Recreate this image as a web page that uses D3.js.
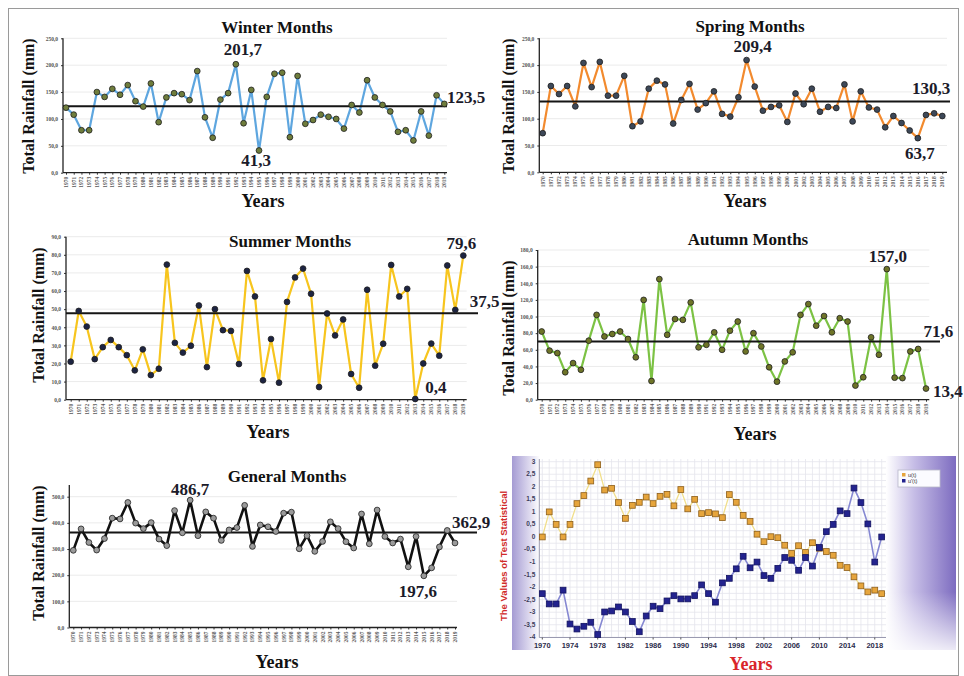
<!DOCTYPE html>
<html>
<head>
<meta charset="utf-8">
<script src="https://cdn.jsdelivr.net/npm/d3@7"></script>
<style>
  body { margin: 0; background: #fff; }
  svg { display: block; }
</style>
</head>
<body>
<svg id="chart" width="964" height="676"></svg>
<script>
var years = d3.range(1970, 2020);

var winter = [121, 108, 79, 79, 150, 141, 156, 145, 163, 133, 123, 166, 94, 140, 148, 146, 135, 189, 103, 65,
  136, 148, 201.7, 92, 154, 41.3, 141, 184, 186, 66, 180, 91, 98, 108, 104, 100, 82, 126, 112, 172,
  140, 126, 114, 76, 79, 60, 114, 69, 144, 128];
var spring = [73, 161, 146, 161, 123, 204, 159, 206, 143, 143, 180, 86, 95, 156, 171, 164, 91, 135, 165, 117,
  129, 151, 109, 104, 140, 209.4, 160, 115, 122, 125, 94, 147, 127, 156, 113, 122, 120, 164, 95, 151,
  121, 117, 84, 105, 92, 78, 63.7, 107, 110, 105];
var summer = [21, 49, 40.4, 22.4, 29, 33, 29, 24.6, 16.2, 27.8, 13.6, 17.1, 74.6, 31.4, 26, 29.8, 52, 18, 50, 38.4,
  38, 19.7, 71.1, 57, 10.7, 33.5, 9.4, 54, 67.5, 72.4, 58.5, 7, 47.6, 35.5, 44.3, 14.2, 6.6, 60.7, 18.8, 30.9,
  74.4, 57, 61.2, 0.4, 20, 31, 24.3, 74.1, 49.6, 79.6];
var autumn = [82, 59, 56, 33, 44, 36, 71, 102, 76, 79, 82, 73, 51, 120, 22.5, 145, 78, 97, 96, 117,
  63, 66, 81, 60, 83, 94, 58, 80, 64, 39, 21.7, 46, 57, 102, 115, 89, 100.6, 81, 98, 94,
  17, 27, 75, 54, 157, 26.5, 26, 58, 61, 13.4];
var general = [295, 377, 325, 296, 340, 418, 415, 478, 399, 378, 401, 338, 313, 447, 362, 486.7, 351, 442, 418, 333,
  373, 382, 467, 310, 392, 385, 367, 437, 441, 301, 351, 291, 329, 404, 378, 328, 304, 434, 320, 449,
  348, 323, 338, 232, 348, 197.6, 228, 308, 371, 323];

// horizontal reference lines as drawn, and the numbers printed next to them
var meanLines = [123.5, 132, 47.8, 70, 363];
var meanLabels = ['123,5', '130,3', '37,5', '71,6', '362,9'];

// sequential Mann-Kendall statistics
var uForward = [0, 1.0, 0.5, 0, 0.5, 1.33, 1.65, 2.23, 2.88, 1.87, 1.94, 1.37, 0.74, 1.26, 1.38, 1.59, 1.33, 1.62, 1.70, 1.24,
  1.89, 1.12, 1.5, 0.93, 0.97, 0.92, 0.77, 1.69, 1.38, 0.86, 0.62, 0.11, -0.19, 0.01, -0.03, -0.33, -0.66, -0.35, -0.62, -0.23,
  -0.45, -0.58, -0.73, -1.13, -1.22, -1.59, -1.95, -2.19, -2.12, -2.26];
var uBackward = [-2.26, -2.67, -2.67, -2.12, -3.47, -3.67, -3.56, -3.40, -3.89, -2.99, -2.95, -2.79, -2.99, -3.37, -3.78, -3.15, -2.76, -2.86, -2.55, -2.34,
  -2.47, -2.47, -2.34, -1.91, -2.26, -2.6, -1.83, -1.65, -1.27, -0.77, -1.23, -1.0, -1.54, -1.65, -1.25, -0.82, -0.93, -1.33, -0.82, -1.16,
  -0.42, 0.21, 0.5, 1.04, 0.93, 1.95, 1.37, 0.52, -1.0, 0];
var mkTicks = [3, 2.5, 2, 1.5, 1, 0.5, 0, -0.5, -1, -1.5, -2, -2.5, -3, -3.5, -4];
var mkYearTicks = [1970, 1974, 1978, 1982, 1986, 1990, 1994, 1998, 2002, 2006, 2010, 2014, 2018];
var mkLegend = ["u(t)", "u'(t)"];

(function(d3) {
  'use strict';

  var svg = d3.select('#chart');
  var serif = '"Times New Roman", "Liberation Serif", serif';

  function comma(v, digits) {
    return v.toFixed(digits).replace('.', ',');
  }

  svg.append('rect')
    .attr('x', 8.5).attr('y', 8.5).attr('width', 950).attr('height', 667)
    .attr('fill', 'none').attr('stroke', '#9a9a9a');

  function plotRain(o) {
    var g = svg.append('g');
    var x = d3.scaleLinear().domain([1970, 2019]).range([o.x0, o.x1]);
    var y = d3.scaleLinear().domain([0, o.max]).range([o.y0, o.y1]);
    var ticks = d3.range(0, o.max + 1, o.step);

    g.selectAll('line.grid').data(ticks.slice(1)).enter().append('line')
      .attr('class', 'grid')
      .attr('x1', o.axisX).attr('x2', o.right)
      .attr('y1', function(d) { return y(d); }).attr('y2', function(d) { return y(d); })
      .attr('stroke', '#ebebeb');

    var yAxis = g.append('g')
      .attr('transform', 'translate(' + o.axisX + ',0)')
      .call(d3.axisLeft(y).tickValues(ticks).tickSize(2).tickPadding(3)
        .tickFormat(function(d) { return comma(d, 1); }));
    yAxis.select('.domain').remove();
    yAxis.selectAll('text').attr('font-size', 5.5).attr('font-weight', 'bold')
      .attr('font-family', serif).attr('fill', '#555');
    yAxis.selectAll('.tick line').attr('stroke', '#333');

    var xAxis = g.append('g')
      .attr('transform', 'translate(0,' + o.y0 + ')')
      .call(d3.axisBottom(x).tickValues(years).tickSize(2).tickFormat(''));
    xAxis.select('.domain').remove();
    xAxis.selectAll('.tick line').attr('stroke', '#333');

    g.selectAll('text.yr').data(years).enter().append('text')
      .attr('class', 'yr')
      .attr('transform', function(d) { return 'translate(' + (x(d) + 2) + ',' + (o.y0 + 4) + ') rotate(-90)'; })
      .attr('text-anchor', 'end')
      .attr('font-size', 5.5).attr('font-weight', 'bold').attr('font-family', serif)
      .attr('fill', '#5a5a5a')
      .text(function(d) { return d; });

    g.append('line')
      .attr('x1', o.axisX).attr('x2', o.axisX)
      .attr('y1', o.y0).attr('y2', y(o.top))
      .attr('stroke', '#222').attr('stroke-width', 1.3);
    g.append('line')
      .attr('x1', o.axisX).attr('x2', o.right)
      .attr('y1', o.y0).attr('y2', o.y0)
      .attr('stroke', '#222').attr('stroke-width', 1.3);

    var line = d3.line()
      .x(function(d, i) { return x(years[i]); })
      .y(function(d) { return y(d); });

    g.append('path')
      .datum(o.values)
      .attr('d', line)
      .attr('fill', 'none')
      .attr('stroke', o.color)
      .attr('stroke-width', o.width || 2.2)
      .attr('stroke-linejoin', 'round');

    g.append('line')
      .attr('x1', o.axisX).attr('x2', o.meanEnd)
      .attr('y1', y(o.mean)).attr('y2', y(o.mean))
      .attr('stroke', '#151515').attr('stroke-width', 2);

    g.selectAll('circle').data(o.values).enter().append('circle')
      .attr('cx', function(d, i) { return x(years[i]); })
      .attr('cy', function(d) { return y(d); })
      .attr('r', 2.9)
      .attr('fill', o.dot)
      .attr('stroke', '#1e1e1e')
      .attr('stroke-width', 0.8);

    o.notes.forEach(function(n) {
      var v = o.values[n.year - 1970];
      g.append('text')
        .attr('x', x(n.year) + n.dx).attr('y', y(v) + n.dy)
        .attr('text-anchor', n.anchor || 'middle')
        .attr('font-family', serif).attr('font-weight', 'bold').attr('font-size', 17)
        .attr('fill', '#1b1b2a')
        .text(n.text);
    });

    g.append('text')
      .attr('x', o.right + o.meanNote.dx).attr('y', y(o.mean) + o.meanNote.dy)
      .attr('text-anchor', o.meanNote.anchor)
      .attr('font-family', serif).attr('font-weight', 'bold').attr('font-size', 17)
      .attr('fill', '#1b1b2a')
      .text(o.meanText);

    g.append('text')
      .attr('x', o.titleX).attr('y', o.titleY)
      .attr('text-anchor', 'middle')
      .attr('font-family', serif).attr('font-weight', 'bold').attr('font-size', 17)
      .attr('fill', '#111')
      .text(o.title);

    g.append('text')
      .attr('x', o.yearsX).attr('y', o.yearsY)
      .attr('text-anchor', 'middle')
      .attr('font-family', serif).attr('font-weight', 'bold').attr('font-size', 18)
      .attr('fill', '#111')
      .text('Years');

    g.append('text')
      .attr('transform', 'translate(' + o.ylabX + ',' + o.ylabY + ') rotate(-90)')
      .attr('text-anchor', 'middle')
      .attr('dominant-baseline', 'central')
      .attr('font-family', serif).attr('font-weight', 'bold').attr('font-size', 16)
      .attr('fill', '#111')
      .text('Total Rainfall (mm)');
  }

  plotRain({
    values: winter, mean: meanLines[0], meanText: meanLabels[0],
    color: '#5ea6df', dot: '#6f7d3c', title: 'Winter Months',
    axisX: 63, x0: 66, x1: 444.3, right: 447, meanEnd: 447,
    y0: 172.7, y1: 38.3, max: 250, step: 50, top: 250,
    titleX: 277, titleY: 33, yearsX: 263, yearsY: 207, ylabX: 28, ylabY: 106,
    notes: [
      { year: 1992, text: '201,7', dx: 7, dy: -9 },
      { year: 1995, text: '41,3', dx: -3, dy: 16 }
    ],
    meanNote: { dx: 0, dy: -3, anchor: 'start' }
  });

  plotRain({
    values: spring, mean: meanLines[1], meanText: meanLabels[1],
    color: '#f28a2e', dot: '#3d4858', title: 'Spring Months',
    axisX: 539.3, x0: 542.7, x1: 942.3, right: 947, meanEnd: 950,
    y0: 172.3, y1: 38.3, max: 250, step: 50, top: 250,
    titleX: 750, titleY: 32, yearsX: 745, yearsY: 207, ylabX: 508, ylabY: 106,
    notes: [
      { year: 1995, text: '209,4', dx: 6, dy: -8 },
      { year: 2016, text: '63,7', dx: 2, dy: 21 }
    ],
    meanNote: { dx: -16, dy: -8, anchor: 'middle' }
  });

  plotRain({
    values: summer, mean: meanLines[2], meanText: meanLabels[2],
    color: '#f7c51e', dot: '#1d2442', title: 'Summer Months',
    axisX: 66, x0: 70.7, x1: 463.3, right: 466.7, meanEnd: 478,
    y0: 399.7, y1: 236.7, max: 90, step: 10, top: 90,
    titleX: 290, titleY: 247, yearsX: 268, yearsY: 438, ylabX: 38, ylabY: 315,
    notes: [
      { year: 2019, text: '79,6', dx: -2, dy: -6.5 },
      { year: 2013, text: '0,4', dx: 10, dy: -6, anchor: 'start' }
    ],
    meanNote: { dx: 3, dy: -6, anchor: 'start' }
  });

  plotRain({
    values: autumn, mean: meanLines[3], meanText: meanLabels[3],
    color: '#7cc244', dot: '#6e7428', title: 'Autumn Months',
    axisX: 537.7, x0: 541.7, x1: 926, right: 929.3, meanEnd: 940,
    y0: 399.7, y1: 250, max: 180, step: 20, top: 180,
    titleX: 748, titleY: 245, yearsX: 755, yearsY: 440, ylabX: 508, ylabY: 328,
    notes: [
      { year: 2014, text: '157,0', dx: 1, dy: -7.5 },
      { year: 2019, text: '13,4', dx: 7, dy: 8, anchor: 'start' }
    ],
    meanNote: { dx: 9, dy: -4, anchor: 'middle' }
  });

  plotRain({
    values: general, mean: meanLines[4], meanText: meanLabels[4],
    color: '#111', dot: '#9a9a9a', title: 'General Months', width: 2.6,
    axisX: 69.3, x0: 73.3, x1: 455, right: 457, meanEnd: 477,
    y0: 627.5, y1: 496.7, max: 500, step: 100, top: 545,
    titleX: 287, titleY: 482, yearsX: 277, yearsY: 668, ylabX: 38, ylabY: 553,
    notes: [
      { year: 1985, text: '486,7', dx: 0, dy: -5 },
      { year: 2015, text: '197,6', dx: -6, dy: 21 }
    ],
    meanNote: { dx: -5, dy: -5, anchor: 'start' }
  });

  function plotTrend() {
    var g = svg.append('g');
    var left = 539.3, right = 886, top = 459, bottom = 637.5;
    var x = d3.scaleLinear().domain([1970, 2019]).range([542.3, 881.7]);
    var y = d3.scaleLinear().domain([-4, 3]).range([637.3, 461.7]);

    var defs = svg.append('defs');
    var gl = defs.append('linearGradient').attr('id', 'shadeL');
    gl.append('stop').attr('offset', '0').attr('stop-color', '#a59bd3');
    gl.append('stop').attr('offset', '1').attr('stop-color', '#ffffff');
    var gr = defs.append('linearGradient').attr('id', 'shadeR');
    gr.append('stop').attr('offset', '0').attr('stop-color', '#ffffff');
    gr.append('stop').attr('offset', '0.4').attr('stop-color', '#c6bde6');
    gr.append('stop').attr('offset', '1').attr('stop-color', '#7d6cc0');
    var gv = defs.append('linearGradient').attr('id', 'fadeB')
      .attr('x1', 0).attr('y1', 0).attr('x2', 0).attr('y2', 1);
    gv.append('stop').attr('offset', '0.7').attr('stop-color', '#fff').attr('stop-opacity', 0);
    gv.append('stop').attr('offset', '1').attr('stop-color', '#fff').attr('stop-opacity', 0.85);

    g.append('rect').attr('x', 512).attr('y', 456).attr('width', 28).attr('height', 194)
      .attr('fill', 'url(#shadeL)');
    g.append('rect').attr('x', right).attr('y', 456).attr('width', 70).attr('height', 194)
      .attr('fill', 'url(#shadeR)');
    g.append('rect').attr('x', right).attr('y', 456).attr('width', 70).attr('height', 194)
      .attr('fill', 'url(#fadeB)');

    g.selectAll('line.vg').data(years).enter().append('line')
      .attr('class', 'vg')
      .attr('x1', function(d) { return x(d); }).attr('x2', function(d) { return x(d); })
      .attr('y1', top).attr('y2', bottom)
      .attr('stroke', '#e4e4ec').attr('stroke-width', 0.8);
    g.selectAll('line.hg').data(d3.range(-4, 3.01, 0.25)).enter().append('line')
      .attr('class', 'hg')
      .attr('x1', left).attr('x2', right)
      .attr('y1', function(d) { return y(d); }).attr('y2', function(d) { return y(d); })
      .attr('stroke', '#e4e4ec').attr('stroke-width', 0.8);

    g.append('line').attr('x1', left).attr('x2', left).attr('y1', top).attr('y2', bottom)
      .attr('stroke', '#9a9ab0');
    g.append('line').attr('x1', left).attr('x2', right).attr('y1', bottom).attr('y2', bottom)
      .attr('stroke', '#9a9ab0');

    g.selectAll('text.yt').data(mkTicks).enter().append('text')
      .attr('class', 'yt')
      .attr('x', left - 4).attr('y', function(d) { return y(d); })
      .attr('dy', '0.3em')
      .attr('text-anchor', 'end')
      .attr('font-family', 'Liberation Sans, Arial, sans-serif').attr('font-weight', 'bold')
      .attr('font-size', 6.5).attr('fill', '#3c3c5a')
      .text(function(d) { return String(d).replace('.', ','); });

    g.selectAll('text.xt').data(mkYearTicks).enter().append('text')
      .attr('class', 'xt')
      .attr('x', function(d) { return x(d); }).attr('y', 647.5)
      .attr('text-anchor', 'middle')
      .attr('font-family', 'Liberation Sans, Arial, sans-serif').attr('font-weight', 'bold')
      .attr('font-size', 7.5).attr('fill', '#2c2c4c')
      .text(function(d) { return d; });
    g.selectAll('line.xtk').data(mkYearTicks).enter().append('line')
      .attr('class', 'xtk')
      .attr('x1', function(d) { return x(d); }).attr('x2', function(d) { return x(d); })
      .attr('y1', bottom).attr('y2', bottom + 2)
      .attr('stroke', '#555');

    var line = d3.line()
      .x(function(d, i) { return x(years[i]); })
      .y(function(d) { return y(d); });

    g.append('path').datum(uForward).attr('d', line)
      .attr('fill', 'none').attr('stroke', '#f1df8c').attr('stroke-width', 1.3);
    g.append('path').datum(uBackward).attr('d', line)
      .attr('fill', 'none').attr('stroke', '#8688d2').attr('stroke-width', 1.6);

    var s = 5.8;
    g.selectAll('rect.uf').data(uForward).enter().append('rect')
      .attr('class', 'uf')
      .attr('x', function(d, i) { return x(years[i]) - s / 2; })
      .attr('y', function(d) { return y(d) - s / 2; })
      .attr('width', s).attr('height', s)
      .attr('fill', '#e6a53c').attr('stroke', '#8d5e1a').attr('stroke-width', 0.8);
    g.selectAll('rect.ub').data(uBackward).enter().append('rect')
      .attr('class', 'ub')
      .attr('x', function(d, i) { return x(years[i]) - s / 2; })
      .attr('y', function(d) { return y(d) - s / 2; })
      .attr('width', s).attr('height', s)
      .attr('fill', '#23238e').attr('stroke', '#121260').attr('stroke-width', 0.8);

    // legend
    var lg = g.append('g').attr('transform', 'translate(898,470)');
    lg.append('rect').attr('width', 42).attr('height', 17)
      .attr('fill', '#fbfbff').attr('stroke', '#b8b8c8').attr('stroke-width', 0.8);
    var colors = ['#e6a53c', '#23238e'];
    mkLegend.forEach(function(t, i) {
      lg.append('rect').attr('x', 4).attr('y', 3 + i * 6).attr('width', 3.5).attr('height', 3.5)
        .attr('fill', colors[i]);
      lg.append('text').attr('x', 10).attr('y', 6.5 + i * 6)
        .attr('font-family', 'Liberation Sans, Arial, sans-serif').attr('font-size', 5.5)
        .attr('fill', '#333').text(t);
    });

    g.append('text')
      .attr('transform', 'translate(503,556) rotate(-90)')
      .attr('text-anchor', 'middle').attr('dominant-baseline', 'central')
      .attr('font-family', '"Liberation Sans Narrow", "Liberation Sans", Arial, sans-serif')
      .attr('font-weight', 'bold').attr('font-size', 9.5)
      .attr('fill', '#d02a2a')
      .text('The Values of Test Statistical');

    g.append('text')
      .attr('x', 751).attr('y', 670)
      .attr('text-anchor', 'middle')
      .attr('font-family', serif).attr('font-weight', 'bold').attr('font-size', 18)
      .attr('fill', '#d9262a')
      .text('Years');
  }

  plotTrend();

})(window.d3);
</script>
</body>
</html>
